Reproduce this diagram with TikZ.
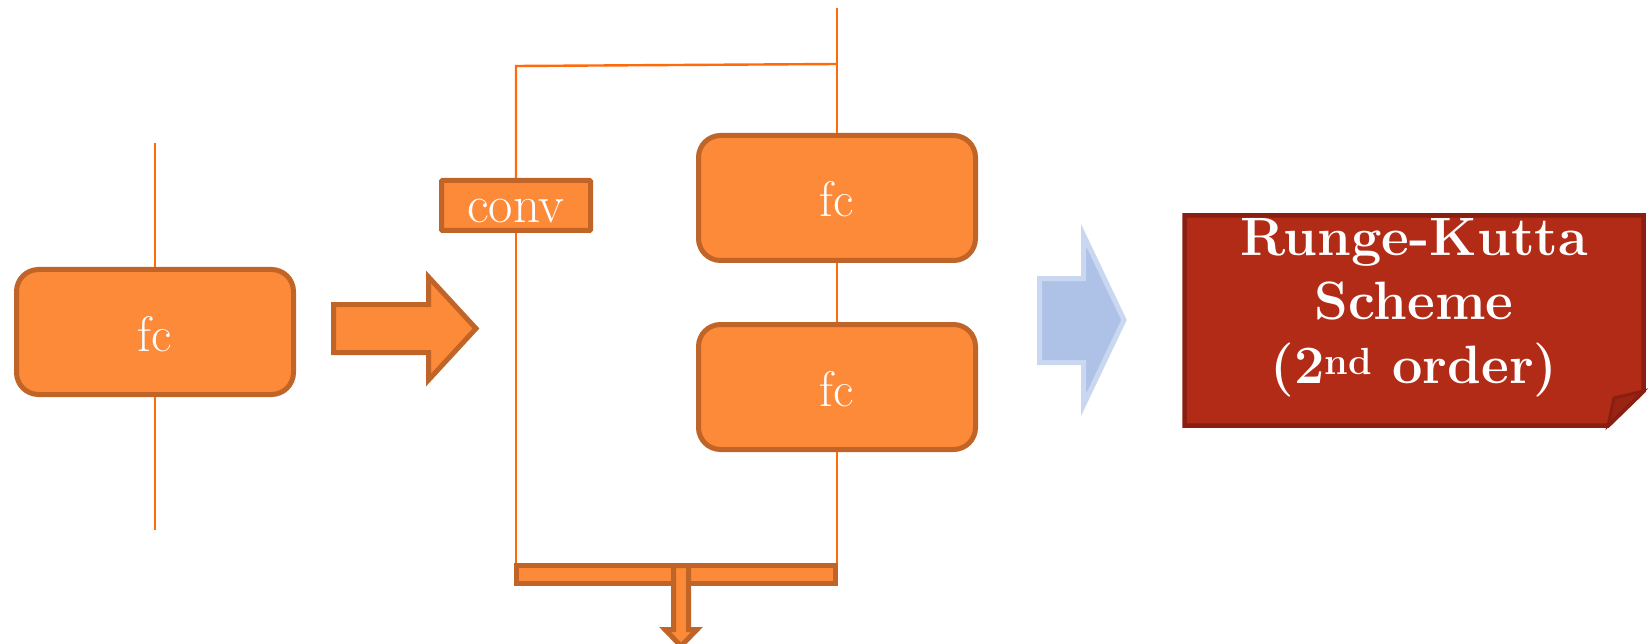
\documentclass[tikz,border=0pt]{standalone}
\usepackage{xcolor}
\usepackage{tikz}
\usetikzlibrary{calc, positioning}
\definecolor{blockfill}{HTML}{FC8A38}
\definecolor{blockedge}{HTML}{C06428}
\definecolor{wirecol}{HTML}{FF6A0A}
\definecolor{stepfill}{HTML}{AEC2E8}
\definecolor{stepedge}{HTML}{C9D7F0}
\definecolor{rkfill}{HTML}{B22B17}
\definecolor{rkedge}{HTML}{8A1E10}
\definecolor{rkfold}{HTML}{9A2414}
\tikzset {
    fc/.style = {
        draw = blockedge,
        fill = blockfill,
        line width = 5pt,
        rounded corners = 22pt,
        minimum width = 277pt,
        minimum height = 125pt,
        text = white,
        text height = 38pt,
        text depth = 0pt,
        font = \fontsize{50}{60}\selectfont
    },
    convbox/.style = {
        draw = blockedge,
        fill = blockfill,
        line width = 5pt,
        rounded corners = 1pt,
        inner sep = 0pt,
        minimum width = 149pt,
        minimum height = 50pt,
        text = white,
        text height = 35pt,
        text depth = 0pt,
        font = \fontsize{53}{60}\selectfont
    },
    sumbar/.style = {
        draw = blockedge,
        fill = blockfill,
        line width = 5pt,
        inner sep = 0pt,
        minimum width = 319pt,
        minimum height = 18pt
    },
    wire/.style = {
        draw = wirecol,
        line width = 2.4pt
    },
    fatarrow/.style = {
        draw = blockedge,
        fill = blockfill,
        line width = 5pt
    },
    nextarrow/.style = {
        draw = stepedge,
        fill = stepfill,
        line width = 5pt
    },
    note/.style = {
        draw = rkedge,
        fill = rkfill,
        line width = 4.5pt
    }
}
\begin{document}
\begin{tikzpicture}[x=1pt, y=-1pt]
        \useasboundingbox (0, 0) rectangle (1648, 644);

        % Left : single fc block
        \node [fc] at (155, 332)                                (fc1)       {fc};
        \coordinate (in1)  at (155, 143);
        \coordinate (out1) at (155, 530);

        % Middle : conv branch, two fc blocks, sum bar
        \node [fc] at (837, 198)                                (fc2)       {fc};
        \node [fc, below=59pt of fc2]                           (fc3)       {fc};
        \node [convbox] at (516, 205.5)                         (conv)      {conv};
        \node [sumbar] at (676, 574.5)                          (bar)       {};
        \coordinate (in2)    at (837, 8);
        \coordinate (split)  at (837, 64);
        \coordinate (splitl) at (516, 66);

        % Right : Runge-Kutta note
        \coordinate (rk) at (1414, 308);

        \path [wire]    (in1)       --  (fc1.north);
        \path [wire]    (fc1.south) --  (out1);
        \path [wire]    (in2)       --  (fc2.north);
        \path [wire]    (split)     --  (splitl)    --  (conv.north);
        \path [wire]    (conv.south) -- (conv.south |- bar.north);
        \path [wire]    (fc2.south) --  (fc3.north);
        \path [wire]    (fc3.south) --  (fc3.south |- bar.north);

        % Arrows
        \path [fatarrow] (333.5, 304.5) -- (428.5, 304.5) -- (428.5, 277) -- (476, 328.5)
                -- (428.5, 380) -- (428.5, 352.5) -- (333.5, 352.5) -- cycle;
        \path [fatarrow] (673.5, 565.5) -- (673.5, 629.5) -- (665, 629.5) -- (681, 646)
                -- (697, 629.5) -- (688.5, 629.5) -- (688.5, 565.5) -- cycle;
        \path [nextarrow] (1039.5, 278.5) -- (1083.5, 278.5) -- (1083.5, 235) -- (1124, 320)
                -- (1083.5, 405) -- (1083.5, 362.5) -- (1039.5, 362.5) -- cycle;

        % Note with folded corner
        \path [note] (1184.5, 215.5) -- (1643.5, 215.5) -- (1643.5, 391) -- (1608, 425.5)
                -- (1184.5, 425.5) -- cycle;
        \path [note, fill = rkfold, line width = 3pt] (1608, 425.5) -- (1614, 398) -- (1643.5, 391) -- cycle;
        \node [text = white, align = center, font = \bfseries\fontsize{54}{64}\selectfont]
                at (rk) (rktext) {Runge-Kutta\\Scheme\\(2\textsuperscript{nd} order)};
\end{tikzpicture}
\end{document}
